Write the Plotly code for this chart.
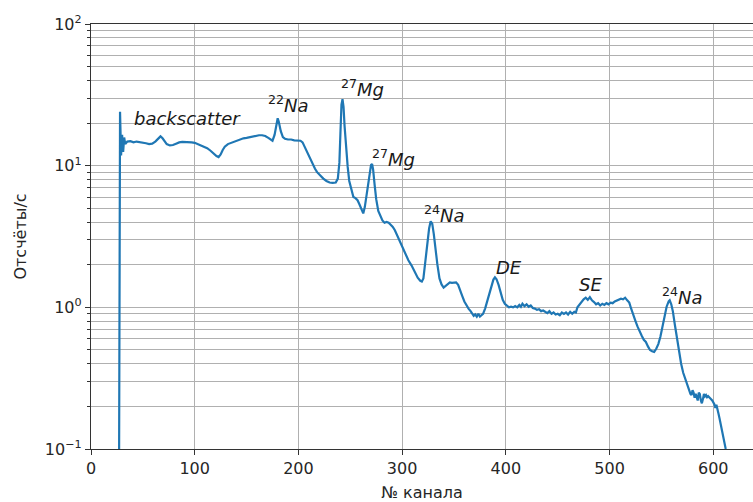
import math
import plotly.graph_objects as go

# Gamma spectrum: count rate per channel
channel = [
    27, 28, 29, 30, 31, 32, 33, 35, 38, 41, 44, 47, 50, 53, 56, 59, 62, 65, 67, 69,
    71, 73, 76, 79, 82, 85, 88, 91, 94, 97, 100, 103, 106, 109, 112, 115, 118, 121, 123, 125,
    127, 129, 132, 135, 138, 141, 144, 147, 150, 153, 156, 159, 162, 165, 168, 171, 173, 175, 177, 179,
    180, 181, 183, 185, 187, 190, 193, 196, 199, 202, 204, 206, 208, 210, 212, 214, 216, 218, 221, 224,
    227, 230, 233, 236, 238, 239.5, 240.5, 241.5, 242.5, 243.5, 244.5, 246, 247.5, 249, 251, 253, 255, 257, 259, 261,
    262.5, 264, 266, 268, 270, 271, 272, 273.5, 275, 277, 279, 281, 283, 285, 287, 289, 291, 293, 295, 297,
    300, 303, 306, 309, 312, 315, 317.5, 319, 320.5, 322, 324, 326, 327.5, 329, 330.5, 332, 334, 336, 338, 340,
    342, 344, 346, 348, 350, 352, 354, 356, 358, 360, 362, 364, 366, 368, 369, 370.5, 372, 373.5, 375, 376.5,
    378, 380, 382, 384, 386, 388, 389.5, 391, 393, 395, 397, 399, 401, 403, 405, 407, 409, 411, 413, 414.5,
    416, 418, 420, 422, 424, 426, 428, 430, 432, 434, 436, 438, 440, 442, 444, 446, 448, 450, 452, 454,
    456, 458, 460, 462, 464, 466, 467.5, 469, 471, 473, 475, 477, 479, 481, 483, 485, 487, 489, 491, 493,
    495, 497, 499, 501, 503, 505, 507, 509, 511, 513, 515, 517, 519, 521, 523, 525, 527, 529, 531, 533,
    535, 537, 539, 541, 543, 545, 547, 549, 551, 553, 555, 557, 558, 559.5, 561, 563, 565, 567, 569, 571,
    573, 575, 577, 578, 579, 580, 581, 582, 583, 584, 585, 586, 587, 588, 589, 590, 591, 592, 593, 594,
    595, 597, 599, 601, 602, 603, 604, 605, 606, 607, 608, 610, 612, 613,
]
rate = [
    0.05, 24, 11.8, 16.5, 12.5, 15.8, 14.2, 14.8, 14.9, 14.6, 14.8, 14.7, 14.5, 14.4, 14.2, 14.3, 14.8, 15.7, 16.1, 15.6,
    14.8, 14.2, 13.9, 14.0, 14.3, 14.6, 14.7, 14.7, 14.7, 14.6, 14.5, 14.2, 14.0, 13.7, 13.3, 12.8, 12.2, 11.7, 11.5, 12.0,
    12.9, 13.6, 14.2, 14.5, 14.8, 15.1, 15.4, 15.6, 15.7, 15.9, 16.1, 16.3, 16.4, 16.4, 16.2, 15.7, 15.3, 15.0, 16.5, 20.0,
    21.6, 20.5, 17.5, 15.9, 15.5, 15.3, 15.3, 15.1, 15.1, 15.0, 14.6, 13.6, 12.6, 11.7, 10.8, 10.1, 9.5, 9.0, 8.5, 8.1,
    7.8, 7.6, 7.55, 7.6, 8.1, 10.5, 17, 27, 29.5, 26, 19, 13, 9.8, 7.8, 6.8, 6.0, 5.9, 5.7, 5.3, 4.8,
    4.6, 5.1, 6.5, 8.6, 10.1, 10.3, 9.4, 7.3, 5.8, 4.8, 4.4, 4.1, 3.95, 4.0, 3.95, 3.85, 3.7, 3.5, 3.25, 3.0,
    2.65, 2.4, 2.15, 1.98, 1.78, 1.62, 1.54, 1.52, 1.6, 2.0, 2.8, 3.6, 4.05, 3.9, 3.3, 2.6, 2.0, 1.6, 1.45, 1.38,
    1.42, 1.46, 1.5, 1.49, 1.5, 1.5, 1.44, 1.33, 1.2, 1.1, 1.03, 0.98, 0.94, 0.9, 0.87, 0.89, 0.86, 0.9, 0.86, 0.88,
    0.9, 0.98, 1.1, 1.25, 1.42, 1.57, 1.63, 1.58, 1.44, 1.27, 1.13, 1.06, 1.02, 1.0, 1.01, 1.0, 1.02, 1.0, 1.04, 1.01,
    1.06, 1.02, 1.05, 1.01, 1.03, 0.99, 0.98, 0.96, 0.97, 0.94, 0.95, 0.93, 0.91, 0.94, 0.9, 0.92, 0.89, 0.9, 0.88, 0.92,
    0.9, 0.92, 0.89, 0.93, 0.9, 0.93, 0.92, 1.0, 1.05, 1.1, 1.14, 1.17, 1.13, 1.18, 1.12, 1.09, 1.05, 1.07, 1.03, 1.06,
    1.04, 1.07, 1.05, 1.08, 1.07, 1.1, 1.12, 1.13, 1.15, 1.14, 1.17, 1.12, 1.08, 0.97, 0.87, 0.8, 0.73, 0.67, 0.63, 0.59,
    0.57, 0.53, 0.5, 0.49, 0.485, 0.51, 0.55, 0.62, 0.74, 0.88, 1.01, 1.1, 1.12, 1.05, 0.94, 0.75, 0.6, 0.48, 0.4, 0.345,
    0.31, 0.285, 0.26, 0.245, 0.24, 0.26, 0.25, 0.23, 0.245, 0.235, 0.22, 0.25, 0.245, 0.22, 0.21, 0.225, 0.245, 0.235, 0.24, 0.232,
    0.236, 0.228, 0.22, 0.207, 0.195, 0.205, 0.185, 0.178, 0.165, 0.15, 0.137, 0.118, 0.1, 0.095,
]

# Peak labels: text, channel, rate
peak_text = ["<i>backscatter</i>", "<sup>22</sup><i>Na</i>", "<sup>27</sup><i>Mg</i>", "<sup>27</sup><i>Mg</i>",
             "<sup>24</sup><i>Na</i>", "<i>DE</i>", "<i>SE</i>", "<sup>24</sup><i>Na</i>"]
peak_x = [92.8, 190, 261.4, 291.8, 340.5, 402.6, 481.6, 570.8]
peak_y = [21.7, 27.2, 35.3, 11.3, 4.55, 1.92, 1.44, 1.2]

# Decade ticks
y_tickvals = [0.1, 1, 10, 100]
y_ticktext = ["10<sup>−1</sup>", "10<sup>0</sup>", "10<sup>1</sup>", "10<sup>2</sup>"]
x_tickvals = [0, 100, 200, 300, 400, 500, 600]

FONT = "DejaVu Sans"
TXT = "#262626"
GRID = "#b0b0b0"
SPINE = "#333333"

fig = go.Figure()
fig.add_trace(go.Scatter(x=channel, y=rate, mode="lines",
                         line=dict(color="#1f77b4", width=2.2), showlegend=False))

# annotation y on a log axis is given in log10 units
for t, x, y in zip(peak_text, peak_x, peak_y):
    fig.add_annotation(x=x, y=math.log10(y), text=t, showarrow=False,
                       xanchor="center", yanchor="middle",
                       font=dict(family=FONT, size=18, color="#1a1a1a"))

fig.update_layout(
    width=753, height=502,
    margin=dict(l=91, r=0, t=24, b=53),
    paper_bgcolor="white", plot_bgcolor="white",
    font=dict(family=FONT, size=16, color=TXT),
)
fig.update_xaxes(
    range=[0, 638.3], tickmode="array", tickvals=x_tickvals,
    showgrid=True, gridcolor=GRID, gridwidth=1,
    showline=True, linecolor=SPINE, linewidth=1.3, mirror=True,
    ticks="outside", ticklen=5, tickcolor=SPINE, tickfont=dict(size=16, color=TXT),
    zeroline=False,
    title=dict(text="№ канала", font=dict(size=16, color=TXT), standoff=11),
)
fig.update_yaxes(
    type="log", range=[-1, 2], tickmode="array", tickvals=y_tickvals, ticktext=y_ticktext,
    showgrid=True, gridcolor=GRID, gridwidth=1,
    showline=True, linecolor=SPINE, linewidth=1.3,
    ticks="outside", ticklen=5, tickcolor=SPINE, tickfont=dict(size=16, color=TXT),
    minor=dict(ticks="outside", ticklen=3, tickcolor=SPINE, showgrid=True,
               gridcolor=GRID, gridwidth=1, dtick="D1"),
    zeroline=False,
    title=dict(text="Отсчёты/с", font=dict(size=16, color=TXT), standoff=14),
)

fig.write_html("out.html")
